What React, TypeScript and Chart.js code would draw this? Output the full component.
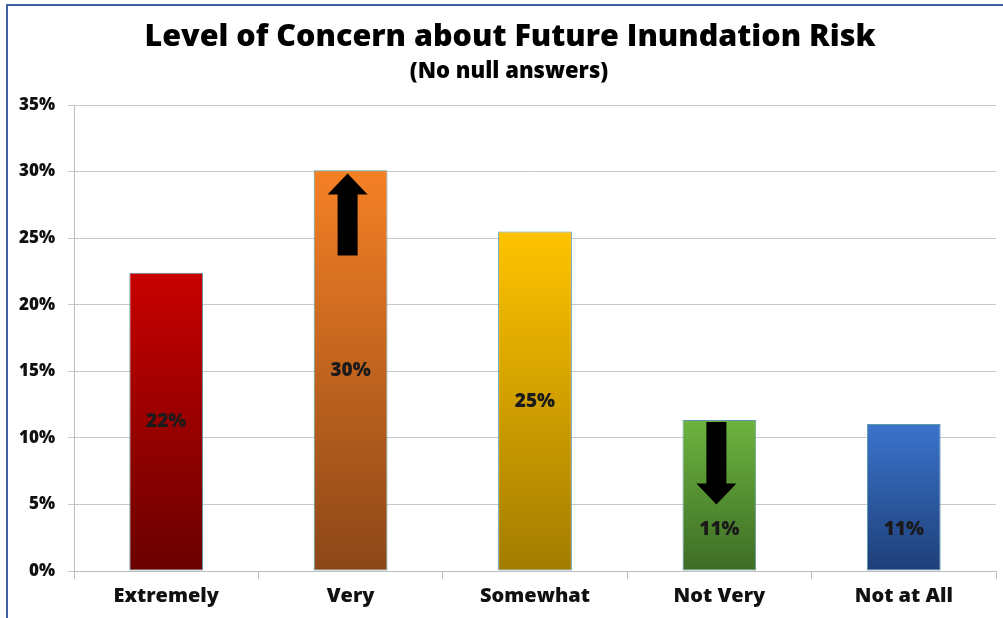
import React, { useEffect, useRef } from "react";
import { Chart, registerables } from "chart.js";

Chart.register(...registerables);

const categories = ["Extremely", "Very", "Somewhat", "Not Very", "Not at All"];
const values = [22.4, 30.1, 25.5, 11.35, 11.05];
const valueLabels = ["22%", "30%", "25%", "11%", "11%"];
const labelAt = [11.2, 15.05, 12.75, 3.1, 3.1];
const topColors = ["#c80000", "#f58025", "#ffc300", "#6db33f", "#3b73cc"];
const bottomColors = ["#6a0000", "#8c4718", "#a27c00", "#3d6d26", "#1d3f78"];
const yTicks = [0, 5, 10, 15, 20, 25, 30, 35];
const arrowCategory = ["Very", "Not Very"];
const arrowFrom = [23.7, 11.2];
const arrowTo = [29.85, 5.0];

const titleText = "Level of Concern about Future Inundation Risk";
const subtitleText = "(No null answers)";
const FONT = "'Open Sans', Lato, sans-serif";

const titlePlugin = {
  id: "customTitle",
  afterDraw(chart: any) {
    const c = chart.ctx;
    c.save();
    c.fillStyle = "#000";
    c.textAlign = "center";
    c.textBaseline = "middle";
    c.font = `800 30.5px ${FONT}`;
    c.fillText(titleText, 510, 37);
    c.font = `800 22px ${FONT}`;
    c.fillText(subtitleText, 509, 72);
    c.restore();
  },
};

const labelPlugin = {
  id: "barLabels",
  afterDatasetsDraw(chart: any) {
    const c = chart.ctx;
    const meta = chart.getDatasetMeta(0);
    const y = chart.scales.y;
    c.save();
    arrowCategory.forEach((cat, k) => {
      const i = categories.indexOf(cat);
      const bar = meta.data[i];
      const cx = bar.x - 3;
      const yFrom = y.getPixelForValue(arrowFrom[k]);
      const yTo = y.getPixelForValue(arrowTo[k]);
      const dir = yTo < yFrom ? -1 : 1;
      const headLen = 21;
      const shaftHalf = 10;
      const headHalf = 20;
      const yBase = yTo - dir * headLen;
      c.beginPath();
      c.moveTo(cx - shaftHalf, yFrom);
      c.lineTo(cx - shaftHalf, yBase);
      c.lineTo(cx - headHalf, yBase);
      c.lineTo(cx, yTo);
      c.lineTo(cx + headHalf, yBase);
      c.lineTo(cx + shaftHalf, yBase);
      c.lineTo(cx + shaftHalf, yFrom);
      c.closePath();
      c.fillStyle = "#000";
      c.fill();
    });
    c.font = `800 19px ${FONT}`;
    c.fillStyle = "#1a1a1a";
    c.textAlign = "center";
    c.textBaseline = "middle";
    meta.data.forEach((bar: any, i: number) => {
      c.fillText(valueLabels[i], bar.x, y.getPixelForValue(labelAt[i]));
    });
    c.restore();
  },
};

function gradientFor(ctx: any) {
  const i = ctx.dataIndex ?? 0;
  const chart = ctx.chart;
  if (!chart.chartArea || !chart.scales.y) return topColors[i];
  const ys = chart.scales.y;
  const top = ys.getPixelForValue(values[i]);
  const bottom = ys.getPixelForValue(0);
  const g = chart.ctx.createLinearGradient(0, top, 0, bottom);
  g.addColorStop(0, topColors[i]);
  g.addColorStop(1, bottomColors[i]);
  return g;
}

export default function App() {
  const ref = useRef<HTMLCanvasElement>(null);
  useEffect(() => {
    document.body.style.margin = "0";
    const chart = new Chart(ref.current as HTMLCanvasElement, {
      type: "bar",
      data: {
        labels: categories,
        datasets: [
          {
            data: values,
            backgroundColor: gradientFor as any,
            borderColor: "#5e98a8",
            borderWidth: 1,
            borderSkipped: false,
            barPercentage: 0.4,
            categoryPercentage: 1,
          },
        ],
      },
      options: {
        animation: false,
        responsive: false,
        maintainAspectRatio: false,
        layout: { padding: { top: 105, left: 0, right: 7, bottom: 0 } },
        plugins: {
          legend: { display: false },
          title: { display: false },
          tooltip: { enabled: false },
        },
        scales: {
          x: {
            offset: true,
            grid: {
              offset: true,
              drawOnChartArea: false,
              drawTicks: true,
              tickLength: 8,
              color: "#bdbdbd",
            },
            border: { color: "#bdbdbd", width: 1 },
            ticks: {
              color: "#111",
              padding: 5,
              font: { family: FONT, size: 20, weight: "800" },
              maxRotation: 0,
            },
            afterFit: (s: any) => {
              s.height = 47;
            },
          },
          y: {
            min: 0,
            max: 35,
            afterBuildTicks: (s: any) => {
              s.ticks = yTicks.map((v) => ({ value: v }));
            },
            grid: { color: "#c8c8c8", tickLength: 6, lineWidth: 1 },
            border: { color: "#bdbdbd", width: 1 },
            ticks: {
              color: "#111",
              padding: 13,
              font: { family: FONT, size: 17, weight: "800" },
              callback: (v: any) => `${v}%`,
            },
            afterFit: (s: any) => {
              s.width = 74;
            },
          },
        },
      },
      plugins: [titlePlugin, labelPlugin],
    });
    return () => chart.destroy();
  }, []);
  return (
    <div style={{ position: "relative", width: 1003, height: 618, background: "#fff" }}>
      <canvas ref={ref} width={1003} height={618} style={{ display: "block" }} />
      <div
        style={{
          position: "absolute",
          left: 6,
          top: 4,
          right: -2,
          bottom: -2,
          borderTop: "2px solid #3f62a0",
          borderLeft: "2px solid #3f62a0",
          pointerEvents: "none",
        }}
      />
    </div>
  );
}
